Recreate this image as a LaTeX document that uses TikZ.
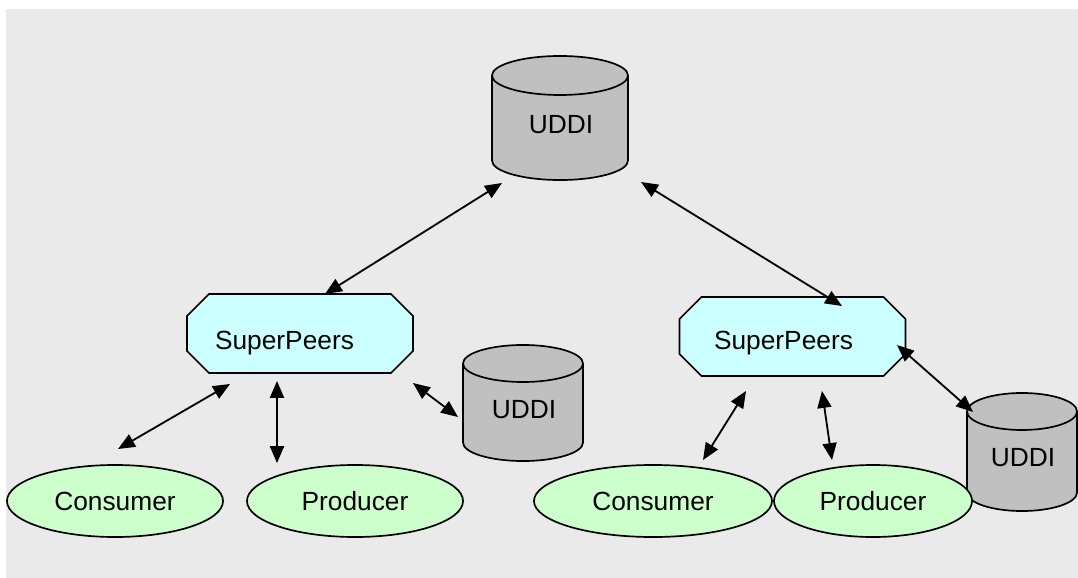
\documentclass[tikz,border=0pt]{standalone}
\usepackage{fontspec}
\setmainfont{Liberation Sans}
\usetikzlibrary{arrows.meta,shapes.geometric}
\definecolor{bgG}{HTML}{EAEAEA}
\definecolor{dbG}{HTML}{C0C0C0}
\definecolor{peerC}{HTML}{CCFFFF}
\definecolor{cliG}{HTML}{CCFFCC}
\tikzset{
  link/.style={{Triangle[length=12pt,width=10pt]}-{Triangle[length=12pt,width=10pt]}, line width=1.3pt},
  outline/.style={draw, line width=1.2pt},
  registry/.style={inner sep=0pt, outer sep=0pt},
  superpeer/.style={inner sep=0pt, outer sep=0pt, minimum width=5.65cm, minimum height=1.975cm},
  client/.style={ellipse, outline, fill=cliG, minimum height=1.8cm, inner sep=0pt, lab},
  lab/.style={font=\fontsize{18.7}{22}\selectfont, inner sep=0pt},
}

\begin{document}
\begin{tikzpicture}[x=0.025cm,y=-0.025cm]

% ---- canvas ----------------------------------------------------------------
\fill[white] (0,0) rectangle (1078,578);
\fill[bgG] (6,9) rectangle (1078,578);
\useasboundingbox (0,0) rectangle (1078,578);

% ---- registries (cylinders) ------------------------------------------------
\node[registry, minimum width=3.4cm, minimum height=3.1cm]   (uddiT) at (560,118) {};
\node[registry, minimum width=3cm, minimum height=2.9cm]     (uddiL) at (523,403) {};
\node[registry, minimum width=2.75cm, minimum height=2.95cm] (uddiR) at (1022,452) {};
\foreach \n/\rx/\ry in {uddiT/1.7cm/0.4875cm, uddiL/1.5cm/0.4625cm, uddiR/1.375cm/0.4625cm}{
  \filldraw[outline, fill=dbG] ([yshift=-\ry]\n.north west) -- ([yshift=\ry]\n.south west)
    arc[start angle=180, end angle=360, x radius=\rx, y radius=\ry]
    -- ([yshift=-\ry]\n.north east)
    arc[start angle=0, end angle=180, x radius=\rx, y radius=\ry] -- cycle;
  \draw[outline] ([yshift=-\ry]\n.north west)
    arc[start angle=180, end angle=360, x radius=\rx, y radius=\ry];
}
\node[lab] (uddiTtxt) at ([shift={(1,6.5)}]uddiT.center) {UDDI};
\node[lab] (uddiLtxt) at ([shift={(1,7)}]uddiL.center) {UDDI};
\node[lab] (uddiRtxt) at ([shift={(1,6)}]uddiR.center) {UDDI};

% ---- super peers (octagons) ------------------------------------------------
\node[superpeer] (spL) at (300,333.5) {};
\node[superpeer] (spR) at (792.5,336.5) {};
\foreach \n in {spL,spR}{
  \filldraw[outline, fill=peerC]
    ([xshift=0.55cm]\n.north west) -- ([xshift=-0.55cm]\n.north east)
    -- ([yshift=-0.55cm]\n.north east) -- ([yshift=0.55cm]\n.south east)
    -- ([xshift=-0.55cm]\n.south east) -- ([xshift=0.55cm]\n.south west)
    -- ([yshift=0.55cm]\n.south west) -- ([yshift=-0.55cm]\n.north west) -- cycle;
}
\node[lab] (spLtxt) at ([shift={(-15.5,9.5)}]spL.center) {SuperPeers};
\node[lab] (spRtxt) at ([shift={(-9,6.5)}]spR.center) {SuperPeers};

% ---- consumers / producers -------------------------------------------------
\node[client, minimum width=5.4cm]  (conL) at (115,501) {Consumer};
\node[client, minimum width=5.4cm]  (proL) at (355,501) {Producer};
\node[client, minimum width=5.95cm] (conR) at (653,501) {Consumer};
\node[client, minimum width=4.95cm] (proR) at (873,501) {Producer};

% ---- links -----------------------------------------------------------------
\draw[link] ([shift={(-58,65)}]uddiT.center) -- ([shift={(25,0)}]spL.north);
\draw[link] ([shift={(81,64)}]uddiT.center) -- ([shift={(49.5,-30.5)}]spR.center);
\draw[link] ([shift={(-70,50.5)}]spL.center) -- ([shift={(3,-52)}]conL.center);
\draw[link] ([shift={(-23,47.5)}]spL.center) -- ([shift={(-78,-38)}]proL.center);
\draw[link] ([shift={(113,49.5)}]spL.center) -- ([shift={(-65,14)}]uddiL.center);
\draw[link] ([shift={(-46.5,54.5)}]spR.center) -- ([shift={(50,-41)}]conR.center);
\draw[link] ([shift={(29.5,54.5)}]spR.center) -- ([shift={(-41,-41)}]proR.center);
\draw[link] ([shift={(104.5,8.5)}]spR.center) -- ([shift={(-49,-40)}]uddiR.center);

\end{tikzpicture}
\end{document}
